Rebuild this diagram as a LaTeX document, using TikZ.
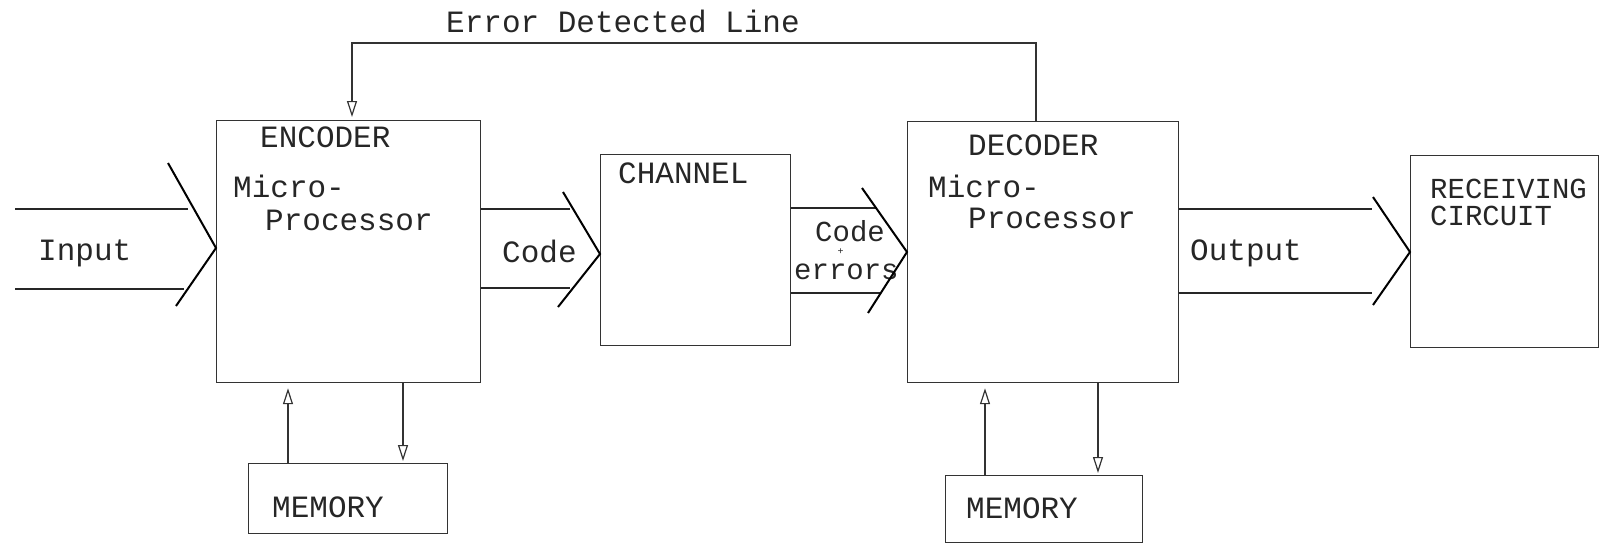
\documentclass[tikz,border=0pt]{standalone}
\usepackage{fontspec}
\setmonofont{Liberation Mono}
\usetikzlibrary{arrows.meta}
\begin{document}
\begin{tikzpicture}[x=1pt,y=-1pt,
  box/.style={draw=black!80, line width=1.2pt, inner sep=0pt, anchor=north west},
  wire/.style={draw=black!80, line width=1.2pt},
  rail/.style={draw=black!85, line width=1.2pt},
  chev/.style={draw=black, line width=2pt, line join=miter},
  tip/.style={-{Triangle[open,length=16pt,width=10pt,line width=1.2pt]}},
  lbl/.style={font=\ttfamily\fontsize{31}{31}\selectfont, text=black!85, inner sep=0pt, anchor=base west},
  slbl/.style={lbl, font=\ttfamily\fontsize{29}{29}\selectfont}
]
\useasboundingbox (0,0) rectangle (1601,544);

% blocks
\node[box, minimum width=264pt, minimum height=262pt] (enc) at (216,120) {};
\node[box, minimum width=190pt, minimum height=191pt] (chan) at (600,154) {};
\node[box, minimum width=271pt, minimum height=261pt] (dec) at (907,121) {};
\node[box, minimum width=188pt, minimum height=192pt] (recv) at (1410,155) {};
\node[box, minimum width=199pt, minimum height=70pt] (mem1) at (248,463) {};
\node[box, minimum width=197pt, minimum height=67pt] (mem2) at (945,475) {};

% block texts
\node[lbl] (tEnc) at (260,147) {ENCODER};
\node[lbl] (tEncA) at (233,197) {Micro-};
\node[lbl] (tEncB) at (265,230) {Processor};
\node[lbl] (tChan) at (618,183) {CHANNEL};
\node[lbl] (tDec) at (968,155) {DECODER};
\node[lbl] (tDecA) at (928,197) {Micro-};
\node[lbl] (tDecB) at (968,228) {Processor};
\node[slbl] (tRecA) at (1430,198) {RECEIVING};
\node[slbl] (tRecB) at (1430,225) {CIRCUIT};
\node[lbl] (tMem1) at (272,517) {MEMORY};
\node[lbl] (tMem2) at (966,518) {MEMORY};

% signal texts
\node[lbl] (tErr) at (446,32) {Error Detected Line};
\node[lbl] (tIn) at (38,260) {Input};
\node[lbl] (tCode) at (502,262) {Code};
% "Code + errors", the plus typed small under the o
\node[slbl] (tCodeB) at (815,241)
  {C\rlap{\smash{\raisebox{-13pt}{\fontsize{10}{10}\selectfont\hspace{5pt}+}}}ode};
\node[slbl] (tErrs) at (794,279) {errors};
\node[lbl] (tOut) at (1190,260) {Output};

% helper coordinates
\coordinate (fbL) at (352,43);
\coordinate (fbR) at (1036,43);
\coordinate (x1u) at (288,0);
\coordinate (x1d) at (403,0);
\coordinate (x2u) at (985,0);
\coordinate (x2d) at (1098,0);
\coordinate (yIn) at (0,248);
\coordinate (yCode) at (0,254);
\coordinate (yErr) at (0,252);
\coordinate (yOut) at (0,252);

% error feedback line
\draw[wire, tip, shorten >=3pt] (dec.north -| fbR) -- (fbR) -- (fbL) -- (enc.north -| fbL);

% memory links
\draw[wire, tip, shorten >=5pt] (mem1.north -| x1u) -- (enc.south -| x1u);
\draw[wire, tip, shorten >=2pt] (enc.south -| x1d) -- (mem1.north -| x1d);
\draw[wire, tip, shorten >=5pt] (mem2.north -| x2u) -- (dec.south -| x2u);
\draw[wire, tip, shorten >=2pt] (dec.south -| x2d) -- (mem2.north -| x2d);

% input arrow
\coordinate (inA) at (15,209);
\coordinate (inB) at (15,289);
\draw[rail] (inA) -- (188,209);
\draw[rail] (inB) -- (184,289);
\draw[chev] (168,163) -- (enc.west |- yIn) -- (176,306);

% code arrow
\draw[rail] (enc.east |- 0,209) -- (570,209);
\draw[rail] (enc.east |- 0,288) -- (570,288);
\draw[chev] (563,192) -- (chan.west |- yCode) -- (558,307);

% code + errors arrow
\draw[rail] (chan.east |- 0,208) -- (877,208);
\draw[rail] (chan.east |- 0,293) -- (880,293);
\draw[chev] (862,188) -- (dec.west |- yErr) -- (868,313);

% output arrow
\draw[rail] (dec.east |- 0,209) -- (1372,209);
\draw[rail] (dec.east |- 0,293) -- (1372,293);
\draw[chev] (1373,197) -- (recv.west |- yOut) -- (1373,305);
\end{tikzpicture}
\end{document}
